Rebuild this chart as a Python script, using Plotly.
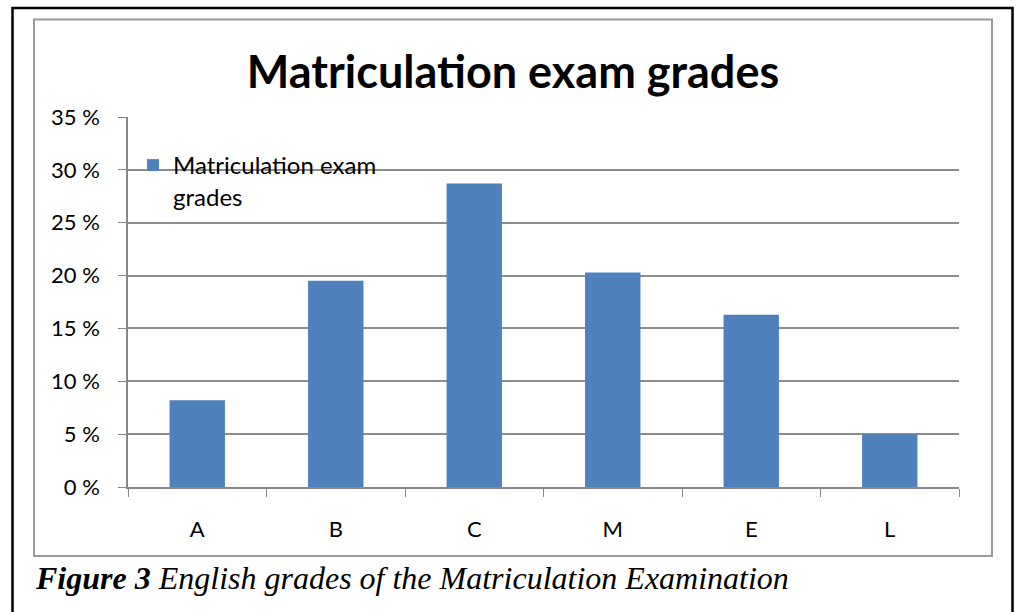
import plotly.graph_objects as go

categories = ["A", "B", "C", "M", "E", "L"]
values = [8.2, 19.5, 28.7, 20.3, 16.3, 5.0]
series_name = "Matriculation exam<br>grades"
y_ticks = [0, 5, 10, 15, 20, 25, 30, 35]
y_tick_labels = [f"{v} %" for v in y_ticks]

W, H = 1018, 612
L, R, T, B = 128, 959, 117, 487


def px(x):
    return (x - L) / (R - L)


def py(y):
    return (B - y) / (B - T)


FONT = "Lato, Open Sans, sans-serif"

fig = go.Figure()
fig.add_trace(go.Bar(x=categories, y=values, name=series_name,
                     marker=dict(color="#4F81BD", line=dict(width=0)),
                     showlegend=True))

fig.update_layout(
    width=W, height=H,
    margin=dict(l=L, r=W - R, t=T, b=H - B, autoexpand=False),
    paper_bgcolor="white", plot_bgcolor="white",
    bargap=0.6,
    font=dict(family=FONT, color="#000"),
    title=dict(text="<b>Matriculation exam grades</b>", x=px(513), xref="paper",
               xanchor="center", y=1 - 72 / H, yref="container", yanchor="middle",
               font=dict(size=45, family=FONT, color="#000")),
    xaxis=dict(showgrid=False, showline=True, linecolor="#888", linewidth=1.5,
               ticks="outside", tickson="boundaries", ticklen=8, tickcolor="#888",
               tickfont=dict(size=22), ticklabelstandoff=22),
    yaxis=dict(range=[0, 35], tickvals=y_ticks, ticktext=y_tick_labels,
               showgrid=True, gridcolor="#8c8c8c", gridwidth=1.5,
               showline=True, linecolor="#888", linewidth=1.5,
               ticks="outside", ticklen=8, tickcolor="#888",
               tickfont=dict(size=22), ticklabelstandoff=14, zeroline=False),
    legend=dict(x=px(133), y=py(143), xanchor="left", yanchor="top",
                bgcolor="rgba(0,0,0,0)", font=dict(size=24),
                itemwidth=30, valign="top", tracegroupgap=0),
    shapes=[
        dict(type="rect", xref="paper", yref="paper",
             x0=px(12.5), x1=px(1012.5), y0=py(650), y1=py(8),
             line=dict(color="#000", width=2.5), fillcolor="rgba(0,0,0,0)", layer="below"),
        dict(type="rect", xref="paper", yref="paper",
             x0=px(34), x1=px(992), y0=py(556), y1=py(19.5),
             line=dict(color="#999", width=2), fillcolor="rgba(0,0,0,0)", layer="below"),
    ],
    annotations=[
        dict(text="<b><i>Figure 3</i></b><i> English grades of the Matriculation Examination</i>",
             xref="paper", yref="paper", x=px(33), y=py(578), xanchor="left", yanchor="middle",
             showarrow=False, font=dict(family="Liberation Serif, serif", size=32, color="#000")),
    ],
)

fig.write_html(
    "out.html",
    config={"displayModeBar": False},
    post_script="document.body.style.margin='0';document.body.style.overflow='hidden';",
)
